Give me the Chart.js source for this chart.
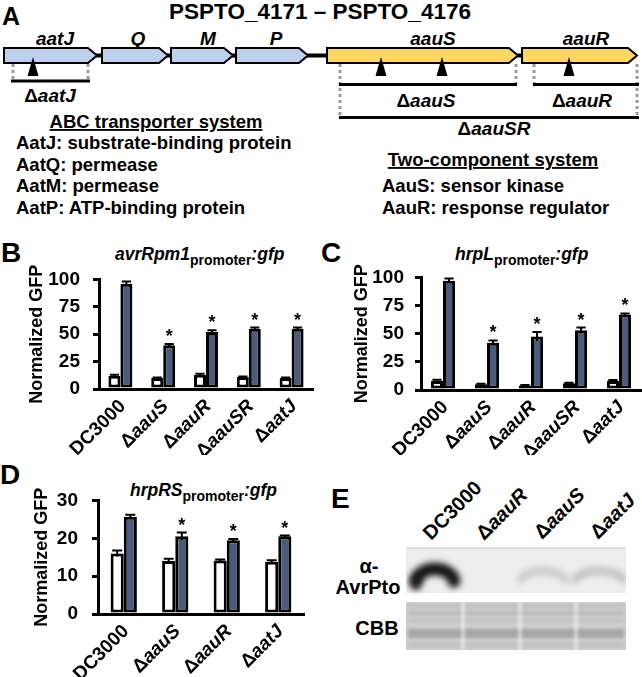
<!DOCTYPE html>
<html>
<head>
<meta charset="utf-8">
<script src="https://cdn.jsdelivr.net/npm/chart.js@4.4.1/dist/chart.umd.min.js"></script>
<style>
  html, body { margin: 0; padding: 0; background: #fff; }
  #fig { position: relative; width: 642px; height: 677px; overflow: hidden; }
  #fig svg, #fig canvas { position: absolute; }
</style>
</head>
<body>
<div id="fig">
  <!-- panel A diagram, panel letters, titles, blot labels -->
  <svg id="art" width="642" height="677" style="left:0;top:0" font-family="Liberation Sans, Arial, sans-serif" font-weight="bold" fill="#000">
    <text x="2" y="25" font-size="25">A</text>
    <text x="320" y="19" font-size="22.5" text-anchor="middle">PSPTO_4171 – PSPTO_4176</text>

    <line x1="90" y1="55.5" x2="630" y2="55.5" stroke="#000" stroke-width="4"/>
    <g stroke="#000" stroke-width="2">
      <polygon fill="#bdd1ef" points="4,48 88,48 97,55.5 88,63 4,63"/>
      <polygon fill="#bdd1ef" points="102,48 159,48 168,55.5 159,63 102,63"/>
      <polygon fill="#bdd1ef" points="171,48 224,48 233,55.5 224,63 171,63"/>
      <polygon fill="#bdd1ef" points="236,48 299,48 308,55.5 299,63 236,63"/>
      <polygon fill="#fdd663" points="327,48 509,48 518,55.5 509,63 327,63"/>
      <polygon fill="#fdd663" points="522,48 628,48 637,55.5 628,63 522,63"/>
    </g>
    <g font-size="19" font-style="italic" text-anchor="middle">
      <text x="55" y="45">aatJ</text>
      <text x="138" y="45">Q</text>
      <text x="208" y="45">M</text>
      <text x="276" y="45">P</text>
      <text x="433" y="45">aauS</text>
      <text x="586" y="45">aauR</text>
    </g>
    <g stroke="#9a9a9a" stroke-width="3" stroke-dasharray="3,3">
      <line x1="13" y1="64" x2="13" y2="80"/>
      <line x1="88" y1="64" x2="88" y2="80"/>
      <line x1="340" y1="64" x2="340" y2="117"/>
      <line x1="516" y1="64" x2="516" y2="84"/>
      <line x1="534" y1="64" x2="534" y2="84"/>
      <line x1="637" y1="64" x2="637" y2="117"/>
    </g>
    <g stroke="#000" stroke-width="3">
      <line x1="11" y1="81" x2="90" y2="81"/>
      <line x1="339" y1="84.5" x2="517" y2="84.5"/>
      <line x1="533" y1="84.5" x2="639" y2="84.5"/>
      <line x1="339" y1="117.5" x2="639" y2="117.5"/>
    </g>
    <g>
      <polygon points="33,57 27.5,76 38.5,76"/>
      <polygon points="381,57 375.5,76 386.5,76"/>
      <polygon points="442,57 436.5,76 447.5,76"/>
      <polygon points="569,57 563.5,76 574.5,76"/>
    </g>
    <g font-size="19" text-anchor="middle">
      <text x="50" y="102">Δ<tspan font-style="italic">aatJ</tspan></text>
      <text x="426" y="107">Δ<tspan font-style="italic">aauS</tspan></text>
      <text x="582" y="107">Δ<tspan font-style="italic">aauR</tspan></text>
      <text x="494" y="135">Δ<tspan font-style="italic">aauSR</tspan></text>
    </g>
    <g font-size="18.5">
      <text x="156" y="128" text-anchor="middle" text-decoration="underline">ABC transporter system</text>
      <text x="16" y="149">AatJ: substrate-binding protein</text>
      <text x="16" y="170.5">AatQ: permease</text>
      <text x="16" y="192">AatM: permease</text>
      <text x="16" y="213.5">AatP: ATP-binding protein</text>
      <text x="493" y="166" text-anchor="middle" text-decoration="underline">Two-component system</text>
      <text x="382" y="192">AauS: sensor kinase</text>
      <text x="382" y="213.5">AauR: response regulator</text>
    </g>

    <g font-size="28">
      <text x="1" y="262">B</text>
      <text x="321" y="262">C</text>
      <text x="0" y="484">D</text>
      <text x="331" y="508">E</text>
    </g>
    <g font-size="17.5" font-style="italic">
      <text x="115" y="260">avrRpm1<tspan font-style="normal" font-size="14" dy="5">promoter</tspan><tspan dy="-5">:gfp</tspan></text>
      <text x="455" y="260">hrpL<tspan font-style="normal" font-size="14" dy="5">promoter</tspan><tspan dy="-5">:gfp</tspan></text>
      <text x="130" y="496">hrpRS<tspan font-style="normal" font-size="14" dy="5">promoter</tspan><tspan dy="-5">:gfp</tspan></text>
    </g>

    <g font-size="20">
      <text transform="translate(431,541) rotate(-45)">DC3000</text>
      <text transform="translate(484,541) rotate(-45)">Δ<tspan font-style="italic">aauR</tspan></text>
      <text transform="translate(542,540) rotate(-45)">Δ<tspan font-style="italic">aauS</tspan></text>
      <text transform="translate(598,540) rotate(-45)">Δ<tspan font-style="italic">aatJ</tspan></text>
      <text x="369" y="573" text-anchor="middle">α-</text>
      <text x="368" y="594" text-anchor="middle">AvrPto</text>
      <text x="377" y="635" text-anchor="middle">CBB</text>
    </g>
  </svg>

  <canvas id="blot" width="220" height="103" style="left:406px;top:547px"></canvas>
  <canvas id="chartB" width="320" height="200" style="left:0;top:255px"></canvas>
  <canvas id="chartC" width="322" height="200" style="left:320px;top:255px"></canvas>
  <canvas id="chartD" width="320" height="202" style="left:0;top:475px"></canvas>
</div>

<script>
// ── Data ─────────────────────────────────────────────
const strainsBC = ['DC3000', 'ΔaauS', 'ΔaauR', 'ΔaauSR', 'ΔaatJ'];
const strainsD = ['DC3000', 'ΔaauS', 'ΔaauR', 'ΔaatJ'];

// B: avrRpm1 promoter
const avrWhite = [12, 10, 13, 11, 10];
const avrWhiteErr = [1, 0.5, 1, 0.5, 0.5];
const avrBlue = [96, 40, 52, 55, 55];
const avrBlueErr = [2, 1, 1.5, 1, 1];
const avrStars = [false, true, true, true, true];

// C: hrpL promoter
const hrpLWhite = [8, 5, 4, 6, 8];
const hrpLWhiteErr = [1, 0.5, 0.5, 0.5, 0.8];
const hrpLBlue = [97, 42, 47.5, 53, 67];
const hrpLBlueErr = [2, 2, 4, 2.5, 1];
const hrpLStars = [false, true, true, true, true];

// D: hrpRS promoter
const hrpRSWhite = [16, 14, 14.1, 13.8];
const hrpRSWhiteErr = [0.8, 0.6, 0.3, 0.4];
const hrpRSBlue = [25.7, 20.5, 19.5, 20.5];
const hrpRSBlueErr = [0.5, 1, 0.3, 0.2];
const hrpRSStars = [false, true, true, true];

const BLUE = '#4b5b7a';
const FONT = '"Liberation Sans", Arial, sans-serif';

// ── Error bars + significance stars ──────────────────
const errorStars = {
    id: 'errorStars',
    afterDatasetsDraw(chart) {
        const ctx = chart.ctx;
        const yScale = chart.scales.y;
        chart.data.datasets.forEach((ds, i) => {
            chart.getDatasetMeta(i).data.forEach((bar, j) => {
                const v = ds.data[j], e = ds.errors[j];
                const top = yScale.getPixelForValue(v + e);
                const bot = yScale.getPixelForValue(Math.max(v - e, 0));
                const cap = bar.width * 0.38;
                ctx.save();
                ctx.strokeStyle = '#000';
                ctx.lineWidth = 2;
                ctx.beginPath();
                ctx.moveTo(bar.x, bot); ctx.lineTo(bar.x, top);
                ctx.moveTo(bar.x - cap, top); ctx.lineTo(bar.x + cap, top);
                ctx.stroke();
                if (ds.stars && ds.stars[j]) {
                    ctx.fillStyle = '#000';
                    ctx.font = 'bold 18px ' + FONT;
                    ctx.textAlign = 'center';
                    ctx.textBaseline = 'alphabetic';
                    ctx.fillText('*', bar.x, top - 2);
                }
                ctx.restore();
            });
        });
    }
};

// ── Slanted strain names (Δ upright, gene name italic) ─
const slantLabels = {
    id: 'slantLabels',
    afterDraw(chart) {
        const ctx = chart.ctx;
        const xs = chart.scales.x;
        const fUp = 'bold 19px ' + FONT;
        const fIt = 'italic bold 19px ' + FONT;
        chart.data.labels.forEach((lab, i) => {
            const delta = lab.startsWith('Δ');
            const head = delta ? 'Δ' : lab;
            const rest = delta ? lab.slice(1) : '';
            ctx.save();
            ctx.translate(xs.getPixelForTick(i) + 6, xs.top + 18);
            ctx.rotate(-Math.PI / 4);
            ctx.fillStyle = '#000';
            ctx.textAlign = 'left';
            ctx.textBaseline = 'alphabetic';
            ctx.font = fUp;
            const w1 = ctx.measureText(head).width;
            ctx.font = fIt;
            const w2 = rest ? ctx.measureText(rest).width : 0;
            ctx.font = fUp;
            ctx.fillText(head, -(w1 + w2), 0);
            if (rest) { ctx.font = fIt; ctx.fillText(rest, -w2, 0); }
            ctx.restore();
        });
    }
};

function makeChart(id, labels, series, yMax, step, box) {
    return new Chart(document.getElementById(id), {
        type: 'bar',
        data: {
            labels: labels,
            datasets: series.map(s => ({
                data: s.values,
                errors: s.errors,
                stars: s.stars,
                backgroundColor: s.color,
                borderColor: '#000',
                borderWidth: 3,
                borderSkipped: false,
                categoryPercentage: box.cat,
                barPercentage: 1
            }))
        },
        options: {
            responsive: false,
            animation: false,
            devicePixelRatio: 1,
            layout: { padding: { left: box.padL, right: box.padR, top: box.padT, bottom: 0 } },
            plugins: { legend: { display: false }, tooltip: { enabled: false } },
            scales: {
                x: {
                    grid: { display: false },
                    border: { display: true, color: '#000', width: 3 },
                    ticks: { display: false },
                    afterFit: s => { s.height = box.xH; s.paddingLeft = 0; s.paddingRight = 0; }
                },
                y: {
                    min: 0,
                    max: yMax,
                    grid: { drawOnChartArea: false, drawTicks: true, tickLength: 6, color: '#000', lineWidth: 3 },
                    border: { display: true, color: '#000', width: 3 },
                    ticks: { stepSize: step, color: '#000', padding: box.tickPad,
                             font: { family: FONT, size: 19, weight: 'bold' } },
                    title: { display: true, text: 'Normalized GFP', color: '#000', padding: 0,
                             font: { family: FONT, size: 18, weight: 'bold' } },
                    afterFit: s => { s.width = box.yW; }
                }
            }
        },
        plugins: [errorStars, slantLabels]
    });
}

makeChart('chartB', strainsBC, [
    { values: avrWhite, errors: avrWhiteErr, stars: null, color: '#fff' },
    { values: avrBlue, errors: avrBlueErr, stars: avrStars, color: BLUE }
], 100, 25, { padL: 26, padR: 7, padT: 15, yW: 73, xH: 66, cat: 0.56, tickPad: 13 });

makeChart('chartC', strainsBC, [
    { values: hrpLWhite, errors: hrpLWhiteErr, stars: null, color: '#fff' },
    { values: hrpLBlue, errors: hrpLBlueErr, stars: hrpLStars, color: BLUE }
], 100, 25, { padL: 31, padR: 1, padT: 15, yW: 70, xH: 65, cat: 0.55, tickPad: 11 });

makeChart('chartD', strainsD, [
    { values: hrpRSWhite, errors: hrpRSWhiteErr, stars: null, color: '#fff' },
    { values: hrpRSBlue, errors: hrpRSBlueErr, stars: hrpRSStars, color: BLUE }
], 30, 10, { padL: 31, padR: 16, padT: 16, yW: 67, xH: 63, cat: 0.51, tickPad: 14 });

// ── Panel E: western blot picture ─────────────────────
function drawBlot() {
    const g = document.getElementById('blot').getContext('2d');
    // alpha-AvrPto strip
    g.fillStyle = '#eeeeee';
    g.fillRect(0, 0, 220, 46);
    g.fillStyle = '#dedede';
    g.fillRect(0, 0, 220, 2);
    g.save();
    g.filter = 'blur(3px)';
    g.lineCap = 'round';
    g.strokeStyle = 'rgba(10,10,10,0.95)';
    g.lineWidth = 13;
    g.beginPath();
    g.ellipse(29, 35, 19, 13, 0, Math.PI * 1.02, Math.PI * 1.98);
    g.stroke();
    g.strokeStyle = 'rgba(30,30,30,0.7)';
    g.lineWidth = 9;
    g.beginPath();
    g.ellipse(29, 36, 20, 10, 0, Math.PI * 0.9, Math.PI * 1.15);
    g.stroke();
    g.strokeStyle = 'rgba(60,60,60,0.2)';
    g.lineWidth = 8;
    g.beginPath();
    g.ellipse(137, 34, 22, 10, 0, Math.PI * 1.05, Math.PI * 1.95);
    g.stroke();
    g.strokeStyle = 'rgba(60,60,60,0.25)';
    g.beginPath();
    g.ellipse(193, 34, 24, 10, 0, Math.PI * 1.05, Math.PI * 1.95);
    g.stroke();
    g.restore();

    // CBB strip
    const y0 = 55;
    g.fillStyle = '#cdcdcd';
    g.fillRect(0, y0, 220, 48);
    g.save();
    g.filter = 'blur(1.5px)';
    [[3, 3, 0.10], [9, 4, 0.16], [17, 3, 0.10], [27, 9, 0.30], [41, 4, 0.10]].forEach(([y, h, a]) => {
        g.fillStyle = 'rgba(80,80,80,' + a + ')';
        g.fillRect(2, y0 + y, 216, h);
    });
    g.fillStyle = 'rgba(255,255,255,0.5)';
    [57, 114, 170].forEach(x => g.fillRect(x - 2, y0, 4, 48));
    g.restore();
}
drawBlot();
</script>
</body>
</html>
